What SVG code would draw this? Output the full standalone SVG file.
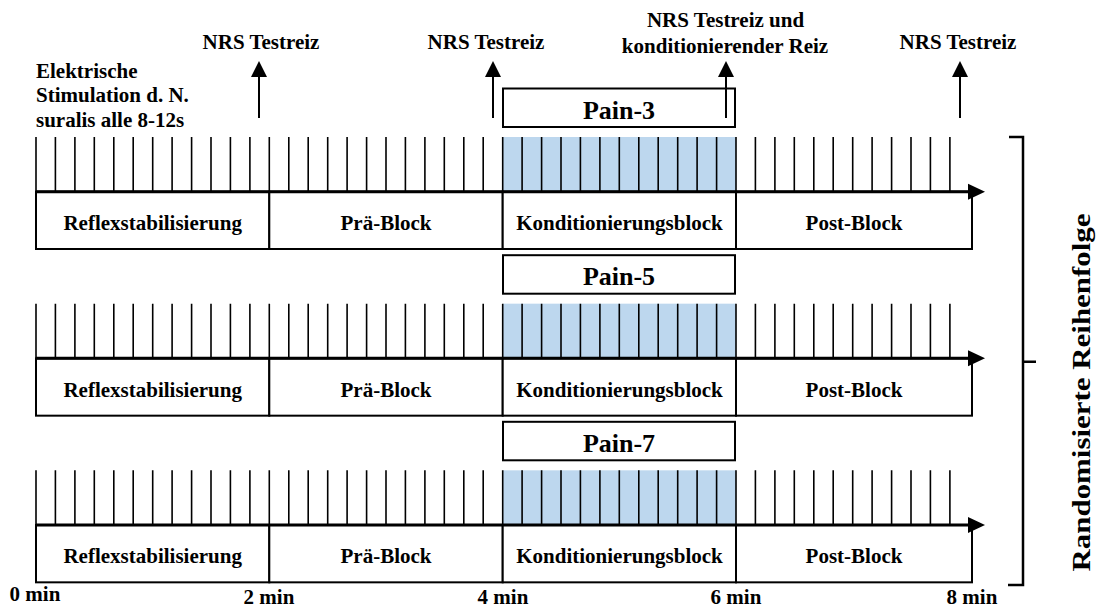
<svg xmlns="http://www.w3.org/2000/svg" xmlns:xlink="http://www.w3.org/1999/xlink" width="1100" height="609" viewBox="0 0 1100 609">
<style>
text{font-family:"Liberation Serif","Times New Roman",serif;font-weight:bold;fill:#000}
.t{font-size:21px}
.c{text-anchor:middle}
.p{font-size:26px;text-anchor:middle}
.box{fill:#fff;stroke:#000;stroke-width:2}
.tick{fill:none;stroke:#000;stroke-width:1.6}
.axis{fill:none;stroke:#000;stroke-width:3}
.blue{fill:#BDD7EE}
.arr{fill:none;stroke:#000;stroke-width:2}
</style>
<defs>
<path id="ticks" class="tick" d="M36 137V191.7M55.4 137V191.7M74.9 137V191.7M94.3 137V191.7M113.8 137V191.7M133.2 137V191.7M152.7 137V191.7M172.1 137V191.7M191.6 137V191.7M211 137V191.7M230.4 137V191.7M249.9 137V191.7M269.3 137V191.7M288.8 137V191.7M308.2 137V191.7M327.7 137V191.7M347.1 137V191.7M366.6 137V191.7M386 137V191.7M405.4 137V191.7M424.9 137V191.7M444.3 137V191.7M463.8 137V191.7M483.2 137V191.7M502.7 137V191.7M522.1 137V191.7M541.6 137V191.7M561 137V191.7M580.4 137V191.7M599.9 137V191.7M619.3 137V191.7M638.8 137V191.7M658.2 137V191.7M677.7 137V191.7M697.1 137V191.7M716.6 137V191.7M736 137V191.7M755.4 137V191.7M774.9 137V191.7M794.3 137V191.7M813.8 137V191.7M833.2 137V191.7M852.7 137V191.7M872.1 137V191.7M891.6 137V191.7M911 137V191.7M930.4 137V191.7M949.9 137V191.7"/>
<g id="axisline"><path class="axis" d="M36 191.7H971"/><polygon points="968,183.7 985,191.7 968,199.7" fill="#000"/></g>
</defs>

<g id="annotation-stimulation">
<text class="t" x="36" y="77.5">Elektrische</text>
<text class="t" x="36" y="102">Stimulation d. N.</text>
<text class="t" x="36" y="127">suralis alle 8-12s</text>
</g>

<g id="label-nrs1"><text class="t c" x="261" y="49">NRS Testreiz</text></g>
<g id="label-nrs2"><text class="t c" x="486" y="49">NRS Testreiz</text></g>
<g id="label-nrs3"><text class="t c" x="725.5" y="27">NRS Testreiz und</text><text class="t c" x="725" y="53">konditionierender Reiz</text></g>
<g id="label-nrs4"><text class="t c" x="958" y="49">NRS Testreiz</text></g>

<g id="row1">
<rect class="blue" x="503" y="137" width="233" height="54.7"/>
<use xlink:href="#ticks"/>
<rect class="box" x="36" y="191.7" width="233.3" height="57.3"/>
<rect class="box" x="269.3" y="191.7" width="233.4" height="57.3"/>
<rect class="box" x="502.7" y="191.7" width="233.3" height="57.3"/>
<rect class="box" x="736" y="191.7" width="236" height="57.3"/>
<use xlink:href="#axisline"/>
<text class="t c" x="152.7" y="230">Reflexstabilisierung</text>
<text class="t c" x="386" y="230">Prä-Block</text>
<text class="t c" x="619.5" y="230">Konditionierungsblock</text>
<text class="t c" x="854" y="230">Post-Block</text>
</g>
<g id="pain3"><rect class="box" x="503" y="88.5" width="232" height="38.5"/><text class="p" x="619" y="118.5">Pain-3</text></g>

<g id="row2" transform="translate(0,166.67)">
<rect class="blue" x="503" y="137" width="233" height="54.7"/>
<use xlink:href="#ticks"/>
<rect class="box" x="36" y="191.7" width="233.3" height="57.3"/>
<rect class="box" x="269.3" y="191.7" width="233.4" height="57.3"/>
<rect class="box" x="502.7" y="191.7" width="233.3" height="57.3"/>
<rect class="box" x="736" y="191.7" width="236" height="57.3"/>
<use xlink:href="#axisline"/>
<text class="t c" x="152.7" y="230">Reflexstabilisierung</text>
<text class="t c" x="386" y="230">Prä-Block</text>
<text class="t c" x="619.5" y="230">Konditionierungsblock</text>
<text class="t c" x="854" y="230">Post-Block</text>
</g>
<g id="pain5"><rect class="box" x="503" y="255.2" width="232" height="38.5"/><text class="p" x="619" y="285.2">Pain-5</text></g>

<g id="row3" transform="translate(0,333.33)">
<rect class="blue" x="503" y="137" width="233" height="54.7"/>
<use xlink:href="#ticks"/>
<rect class="box" x="36" y="191.7" width="233.3" height="57.3"/>
<rect class="box" x="269.3" y="191.7" width="233.4" height="57.3"/>
<rect class="box" x="502.7" y="191.7" width="233.3" height="57.3"/>
<rect class="box" x="736" y="191.7" width="236" height="57.3"/>
<use xlink:href="#axisline"/>
<text class="t c" x="152.7" y="230">Reflexstabilisierung</text>
<text class="t c" x="386" y="230">Prä-Block</text>
<text class="t c" x="619.5" y="230">Konditionierungsblock</text>
<text class="t c" x="854" y="230">Post-Block</text>
</g>
<g id="pain7"><rect class="box" x="503" y="421.8" width="232" height="38.5"/><text class="p" x="619" y="451.8">Pain-7</text></g>

<g id="connectors">
<path class="arr" d="M259 118V74"/><polygon points="251,77 259,61 267,77" fill="#000"/>
<path class="arr" d="M493 118V74"/><polygon points="485,77 493,61 501,77" fill="#000"/>
<path class="arr" d="M726 118V74"/><polygon points="718,77 726,61 734,77" fill="#000"/>
<path class="arr" d="M960 118V74"/><polygon points="952,77 960,61 968,77" fill="#000"/>
</g>

<g id="bracket">
<path fill="none" stroke="#000" stroke-width="2.5" d="M1009 137H1023V585H1008M1023 361.7H1036"/>
<text transform="translate(1090,392.5) rotate(-90)" style="font-size:25px;text-anchor:middle" textLength="358" lengthAdjust="spacingAndGlyphs">Randomisierte Reihenfolge</text>
</g>

<g id="time-labels">
<text class="t c" x="35" y="601">0 min</text>
<text class="t c" x="269" y="604">2 min</text>
<text class="t c" x="503" y="604">4 min</text>
<text class="t c" x="736" y="604">6 min</text>
<text class="t c" x="972" y="604">8 min</text>
</g>
</svg>
